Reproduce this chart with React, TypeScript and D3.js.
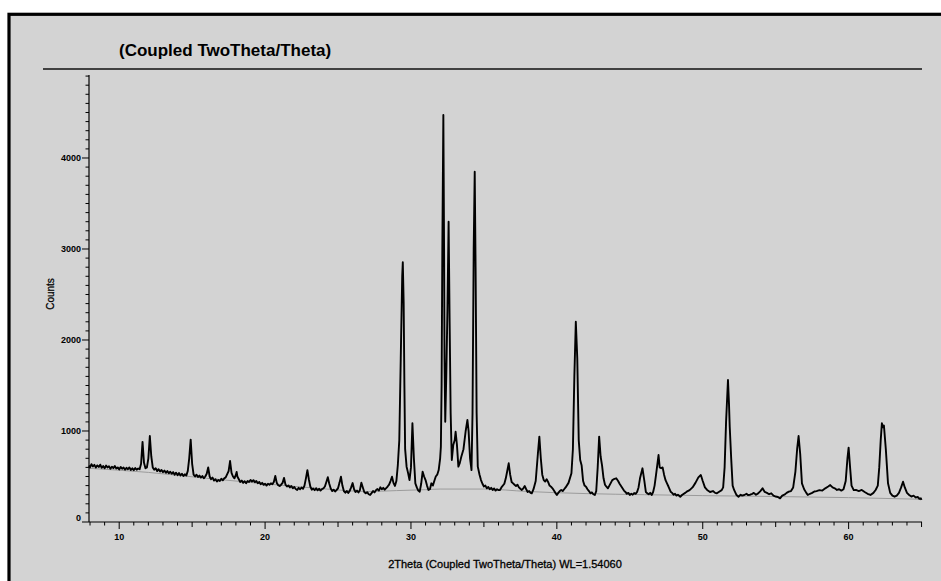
import React from 'react';
import * as d3 from 'd3';

// 2Theta / counts, split in three parts
const lowAngleScan: [number, number][] = [
  [7.93, 620], [8.0, 600], [8.1, 635], [8.2, 610], [8.3, 628], [8.4, 598], [8.5, 622], [8.6, 605], [8.7, 630], [8.8, 596],
  [8.9, 615], [9.0, 590], [9.1, 620], [9.2, 600], [9.3, 612], [9.4, 585], [9.5, 608], [9.6, 592], [9.7, 615], [9.8, 588],
  [9.9, 600], [10.0, 578], [10.1, 605], [10.2, 585], [10.3, 598], [10.4, 575], [10.5, 595], [10.6, 580], [10.7, 600], [10.8, 572],
  [10.9, 590], [11.0, 570], [11.1, 592], [11.2, 575], [11.3, 588], [11.4, 580], [11.5, 640], [11.6, 880], [11.7, 650], [11.8, 590],
  [11.9, 600], [12.0, 700], [12.1, 945], [12.2, 720], [12.3, 600], [12.4, 575], [12.5, 590], [12.6, 560], [12.7, 580], [12.8, 555],
  [12.9, 572], [13.0, 548], [13.1, 565], [13.2, 540], [13.3, 560], [13.4, 535], [13.5, 552], [13.6, 530], [13.7, 548], [13.8, 520],
  [13.9, 542], [14.0, 515], [14.1, 538], [14.2, 512], [14.3, 530], [14.4, 505], [14.5, 525], [14.6, 510], [14.7, 560], [14.8, 700],
  [14.9, 905], [15.0, 640], [15.1, 520], [15.2, 500], [15.3, 520], [15.4, 495], [15.5, 510], [15.6, 488], [15.7, 505], [15.8, 480],
  [15.9, 500], [16.0, 530], [16.1, 600], [16.2, 500], [16.3, 470], [16.4, 488], [16.5, 455], [16.6, 470], [16.7, 445], [16.8, 462],
  [16.9, 450], [17.0, 475], [17.1, 458], [17.2, 480], [17.3, 490], [17.5, 560], [17.6, 670], [17.7, 540], [17.8, 500], [17.9, 480],
  [18.0, 520], [18.05, 550], [18.1, 500], [18.2, 470], [18.3, 440], [18.4, 455], [18.5, 430], [18.6, 448], [18.7, 425], [18.8, 450],
  [18.9, 440], [19.0, 462], [19.1, 445], [19.2, 460], [19.3, 438], [19.4, 450], [19.5, 425], [19.6, 440], [19.7, 415], [19.8, 430],
  [19.9, 408], [20.0, 420], [20.1, 400], [20.2, 420], [20.3, 410], [20.4, 425], [20.5, 415], [20.6, 440], [20.7, 505], [20.8, 430],
  [20.9, 405], [21.0, 395], [21.1, 410], [21.2, 430], [21.3, 485], [21.4, 410], [21.5, 390], [21.6, 402], [21.7, 380], [21.8, 395],
  [21.9, 370], [22.0, 385], [22.1, 362], [22.2, 352], [22.3, 375], [22.4, 360], [22.5, 378], [22.6, 365], [22.7, 400], [22.8, 480],
  [22.9, 570], [23.0, 470], [23.1, 390], [23.2, 355], [23.3, 368], [23.4, 350], [23.5, 370], [23.6, 348], [23.7, 365], [23.8, 345],
  [23.9, 362], [24.0, 370], [24.1, 390], [24.2, 440], [24.3, 492], [24.4, 420], [24.5, 368], [24.6, 340], [24.7, 355], [24.8, 335],
  [24.9, 350], [25.0, 372], [25.1, 430], [25.2, 498], [25.3, 400], [25.4, 340], [25.5, 322], [25.6, 340], [25.7, 318], [25.8, 342],
  [25.9, 380], [26.0, 428], [26.1, 360], [26.2, 330], [26.3, 345], [26.4, 325], [26.5, 350], [26.6, 432], [26.7, 380], [26.8, 330],
  [26.9, 315], [27.0, 328], [27.1, 305], [27.2, 297], [27.3, 318], [27.4, 340], [27.5, 325], [27.6, 350], [27.7, 362], [27.8, 345],
  [27.9, 381], [28.0, 360], [28.1, 375], [28.2, 355], [28.3, 372], [28.4, 390], [28.5, 410], [28.6, 450], [28.7, 498], [28.8, 430],
  [28.9, 396], [29.0, 450],
];

const mainClusterScan: [number, number][] = [
  [29.1, 626], [29.2, 900], [29.3, 1800], [29.4, 2700], [29.44, 2854], [29.5, 2400], [29.55, 1500], [29.6, 800], [29.7, 608], [29.8, 540],
  [29.9, 461], [30.0, 600], [30.1, 1085], [30.2, 700], [30.3, 425], [30.4, 380], [30.5, 345], [30.6, 333], [30.7, 420], [30.8, 553],
  [30.9, 500], [31.0, 461], [31.1, 400], [31.2, 352], [31.3, 360], [31.4, 425], [31.5, 400], [31.6, 450], [31.7, 500], [31.8, 520],
  [31.9, 571], [32.0, 700], [32.05, 827], [32.1, 1500], [32.15, 3000], [32.22, 4473], [32.27, 3000], [32.3, 1800], [32.35, 1102], [32.42, 1600],
  [32.5, 2330], [32.58, 3300], [32.65, 2200], [32.72, 1200], [32.8, 681], [32.9, 846], [33.0, 900], [33.06, 992], [33.15, 850], [33.25, 608],
  [33.35, 650], [33.45, 718], [33.6, 800], [33.75, 1000], [33.87, 1121], [33.95, 1000], [34.05, 700], [34.15, 571], [34.22, 1200], [34.3, 3000],
  [34.37, 3849], [34.43, 2800], [34.5, 1200], [34.58, 608], [34.7, 520], [34.8, 461], [34.9, 420], [35.0, 390], [35.1, 400], [35.2, 370],
  [35.3, 385], [35.4, 360], [35.5, 375], [35.6, 352], [35.7, 368], [35.8, 345], [35.9, 360], [36.0, 350], [36.1, 352], [36.2, 380],
  [36.4, 420], [36.5, 480], [36.6, 560], [36.7, 645], [36.8, 520], [36.9, 440], [37.0, 425], [37.1, 410], [37.2, 396], [37.3, 410],
  [37.4, 380], [37.5, 365], [37.6, 352], [37.7, 370], [37.8, 395], [37.9, 360], [38.0, 330], [38.1, 340], [38.2, 320], [38.28, 315],
  [38.4, 360], [38.55, 450], [38.7, 750], [38.8, 938], [38.9, 700], [39.0, 520], [39.1, 461], [39.2, 445], [39.3, 470], [39.4, 440],
  [39.5, 400], [39.6, 388], [39.7, 370], [39.8, 345], [39.9, 320], [40.0, 297], [40.1, 320], [40.2, 340], [40.3, 352], [40.4, 340],
  [40.5, 360], [40.6, 380], [40.8, 430], [41.0, 535], [41.1, 800], [41.2, 1600], [41.3, 2200], [41.4, 1800], [41.5, 900], [41.6, 681],
  [41.7, 620], [41.8, 450], [41.9, 400], [42.0, 388], [42.1, 360], [42.2, 340], [42.3, 315], [42.4, 325], [42.5, 305], [42.6, 297],
];

const highAngleScan: [number, number][] = [
  [42.7, 340], [42.8, 600], [42.9, 938], [43.0, 720], [43.1, 620], [43.2, 480], [43.3, 410], [43.4, 388], [43.5, 370], [43.6, 400],
  [43.7, 430], [43.8, 460], [43.9, 470], [44.07, 480], [44.2, 450], [44.3, 420], [44.4, 395], [44.5, 370], [44.6, 345], [44.7, 330],
  [44.8, 310], [44.9, 320], [45.0, 297], [45.1, 310], [45.2, 300], [45.3, 318], [45.4, 310], [45.5, 330], [45.6, 380], [45.7, 480],
  [45.87, 590], [46.0, 450], [46.1, 330], [46.2, 315], [46.3, 305], [46.4, 320], [46.5, 297], [46.6, 330], [46.7, 400], [46.8, 520],
  [46.97, 736], [47.05, 600], [47.15, 590], [47.25, 600], [47.35, 520], [47.45, 460], [47.55, 425], [47.65, 390], [47.8, 333], [47.9, 320],
  [48.0, 300], [48.1, 310], [48.2, 290], [48.3, 300], [48.46, 278], [48.6, 300], [48.8, 320], [48.9, 333], [49.1, 350], [49.3, 380],
  [49.5, 430], [49.7, 490], [49.87, 516], [50.0, 450], [50.15, 380], [50.3, 352], [50.5, 330], [50.7, 340], [50.85, 320], [50.97, 315],
  [51.1, 330], [51.3, 350], [51.4, 380], [51.5, 600], [51.6, 1100], [51.73, 1560], [51.8, 1300], [51.85, 1047], [51.95, 700], [52.05, 400],
  [52.15, 352], [52.3, 300], [52.45, 278], [52.6, 300], [52.7, 290], [52.85, 297], [53.0, 310], [53.1, 295], [53.25, 300], [53.4, 310],
  [53.5, 320], [53.65, 300], [53.8, 315], [53.95, 340], [54.1, 370], [54.25, 330], [54.4, 320], [54.55, 305], [54.7, 315], [54.85, 290],
  [55.0, 280], [55.15, 275], [55.3, 260], [55.45, 290], [55.6, 300], [55.75, 320], [55.9, 333], [56.05, 340], [56.2, 380], [56.35, 550],
  [56.47, 800], [56.57, 945], [56.68, 750], [56.8, 425], [56.95, 360], [57.1, 320], [57.2, 297], [57.35, 310], [57.5, 320], [57.65, 335],
  [57.8, 340], [58.0, 350], [58.2, 345], [58.4, 370], [58.6, 390], [58.74, 406], [58.9, 380], [59.05, 370], [59.2, 352], [59.35, 360],
  [59.5, 345], [59.65, 360], [59.8, 450], [59.92, 700], [60.0, 817], [60.1, 600], [60.2, 400], [60.35, 350], [60.5, 352], [60.7, 340],
  [60.9, 352], [61.1, 330], [61.3, 310], [61.5, 297], [61.7, 320], [61.85, 352], [62.0, 400], [62.1, 600], [62.2, 900], [62.28, 1085],
  [62.36, 1040], [62.42, 1060], [62.55, 800], [62.7, 425], [62.85, 320], [63.0, 290], [63.15, 278], [63.3, 290], [63.45, 320], [63.6, 380],
  [63.73, 443], [63.85, 380], [64.0, 320], [64.15, 297], [64.3, 280], [64.45, 290], [64.6, 270], [64.75, 275], [64.85, 255], [64.95, 260],
  [65.0, 242],
];

// fitted background (the thin grey curve)
const background: [number, number][] = [
  [7.93, 590], [12, 545], [16, 480], [20, 420], [24, 365], [27, 335], [29, 345], [31, 355], [32, 362], [35, 362],
  [38, 335], [42, 312], [46, 300], [50, 290], [55, 280], [60, 268], [65, 250],
];

const yMajorTicks = [0, 1000, 2000, 3000, 4000];
const xMajorTicks = [10, 20, 30, 40, 50, 60];
const chartTitle = '(Coupled TwoTheta/Theta)';
const xTitle = '2Theta (Coupled TwoTheta/Theta) WL=1.54060';
const yTitle = 'Counts';

export default function App() {
  const width = 941;
  const height = 581;
  const left = 89;
  const right = 922;
  const bottom = 522;
  const top = 75;

  const x = d3.scaleLinear().domain([7.93, 65.03]).range([left, right]);
  const y = d3.scaleLinear().domain([0, 4912]).range([bottom, top]);

  const scan = [...lowAngleScan, ...mainClusterScan, ...highAngleScan];
  const line = d3.line<[number, number]>()
    .x(d => x(d[0]))
    .y(d => y(d[1]));
  const bgLine = d3.line<[number, number]>()
    .x(d => x(d[0]))
    .y(d => y(d[1]))
    .curve(d3.curveMonotoneX);

  const yMinor = d3.range(0, 4901, 100);
  const xMinor = d3.range(8, 66, 1).filter(v => x(v) <= right);
  const font = 'Arial, "Liberation Sans", sans-serif';

  return (
    <svg
      width={width}
      height={height}
      style={{ position: 'absolute', left: 0, top: 0, background: '#fff' }}
    >
      <rect x={9} y={14.3} width={960} height={600} fill="#d3d3d3" stroke="#000" strokeWidth={3.2} />

      <text x={119} y={56} fontFamily={font} fontWeight="bold" fontSize={17} fill="#000">
        {chartTitle}
      </text>
      <line x1={43} x2={922} y1={69} y2={69} stroke="#111" strokeWidth={1.4} />

      {/* background curve */}
      <path d={bgLine(background) || ''} fill="none" stroke="#9b9b9b" strokeWidth={1} />

      {/* scan */}
      <path d={line(scan) || ''} fill="none" stroke="#000" strokeWidth={1.9} strokeLinejoin="round" />

      {/* y axis */}
      <line x1={left} x2={left} y1={top} y2={bottom} stroke="#000" strokeWidth={1.2} />
      {yMinor.map(v => (
        <line
          key={'ym' + v}
          x1={left}
          x2={left - (v % 1000 === 0 ? 7 : 3.5)}
          y1={y(v)}
          y2={y(v)}
          stroke="#000"
          strokeWidth={1}
        />
      ))}
      {yMajorTicks.map(v => (
        <text
          key={'yl' + v}
          x={left - 8}
          y={y(v) - (v === 0 ? 4 : 0)}
          textAnchor="end"
          dominantBaseline="central"
          fontFamily={font}
          fontWeight="bold"
          fontSize={9}
          fill="#000"
        >
          {v}
        </text>
      ))}
      <text
        transform={`translate(50,294) rotate(-90)`}
        textAnchor="middle"
        dominantBaseline="central"
        fontFamily={font}
        fontSize={10}
        fill="#000"
        stroke="#000"
        strokeWidth={0.25}
      >
        {yTitle}
      </text>

      {/* x axis */}
      <line x1={left} x2={right} y1={bottom} y2={bottom} stroke="#000" strokeWidth={1.2} />
      {xMinor.map(v => (
        <line
          key={'xm' + v}
          x1={x(v)}
          x2={x(v)}
          y1={bottom}
          y2={bottom + (v % 10 === 0 ? 7 : v % 5 === 0 ? 5 : 3.5)}
          stroke="#000"
          strokeWidth={1}
        />
      ))}
      {xMajorTicks.map(v => (
        <text
          key={'xl' + v}
          x={x(v)}
          y={537}
          textAnchor="middle"
          dominantBaseline="central"
          fontFamily={font}
          fontWeight="bold"
          fontSize={9}
          fill="#000"
        >
          {v}
        </text>
      ))}
      <text
        x={505}
        y={568}
        textAnchor="middle"
        fontFamily={font}
        fontSize={11}
        fill="#000"
        stroke="#000"
        strokeWidth={0.3}
      >
        {xTitle}
      </text>
    </svg>
  );
}
